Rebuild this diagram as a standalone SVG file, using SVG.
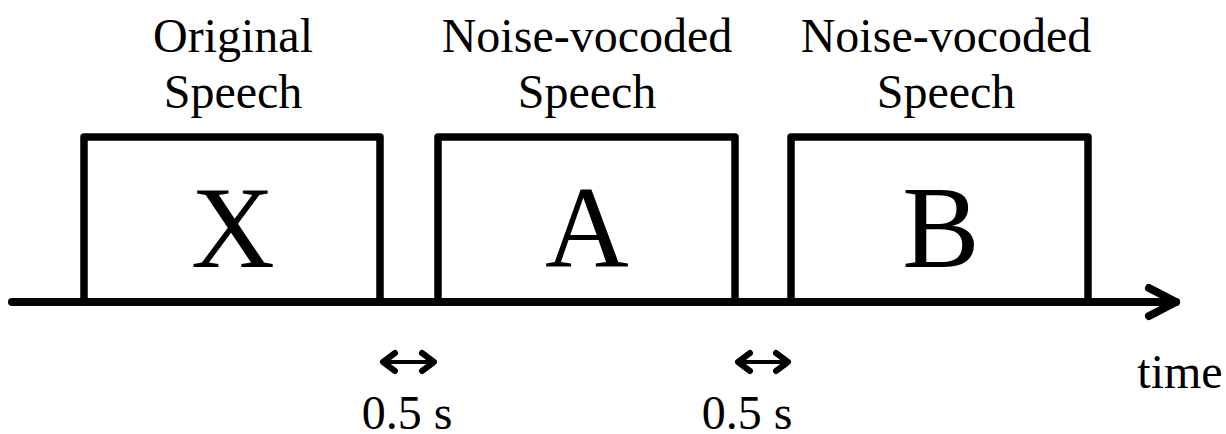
<svg xmlns="http://www.w3.org/2000/svg" width="1226" height="434" viewBox="0 0 1226 434">
  <style>
    .lbl { font-family: "Liberation Serif", "Times New Roman", serif; font-size: 48px; fill: #000; text-anchor: middle; }
    .big { font-family: "Liberation Serif", "Times New Roman", serif; font-size: 116px; fill: #000; text-anchor: middle; }
    .box { fill: none; stroke: #000; stroke-width: 7.5; stroke-linejoin: round; }
    .axis { fill: none; stroke: #000; stroke-width: 8; stroke-linecap: round; stroke-linejoin: round; }
    .gap { fill: none; stroke: #000; stroke-width: 4; stroke-linecap: round; }
    .gaphead { fill: none; stroke: #000; stroke-width: 6; stroke-linecap: round; stroke-linejoin: round; }
  </style>
  <rect width="1226" height="434" fill="#fff"/>

  <g id="connectors">
    <!-- time axis with open arrowhead -->
    <path class="axis" d="M12,302 H1176" stroke-linecap="butt"/>
    <path class="axis" d="M1149,288 L1176,302 L1149,316"/>
    <!-- 0.5 s interval markers -->
    <path class="gap" d="M383,362 H434"/>
    <path class="gaphead" d="M395,353 L383,362 L395,371 M422,353 L434,362 L422,371"/>
    <path class="gap" d="M738,362 H788"/>
    <path class="gaphead" d="M750,353 L738,362 L750,371 M776,353 L788,362 L776,371"/>
  </g>

  <g id="node-x">
    <path class="box" d="M84,302 V137 H380 V302"/>
    <text class="big" x="233" y="267">X</text>
    <text class="lbl" x="233" y="52">Original</text>
    <text class="lbl" x="233" y="108">Speech</text>
  </g>

  <g id="node-a">
    <path class="box" d="M438,302 V137 H735 V302"/>
    <text class="big" x="587" y="267">A</text>
    <text class="lbl" x="587" y="52">Noise-vocoded</text>
    <text class="lbl" x="587" y="108">Speech</text>
  </g>

  <g id="node-b">
    <path class="box" d="M791,302 V137 H1088 V302"/>
    <text class="big" x="941" y="267">B</text>
    <text class="lbl" x="946" y="52">Noise-vocoded</text>
    <text class="lbl" x="946" y="108">Speech</text>
  </g>

  <g id="labels">
    <text class="lbl" x="407" y="429">0.5 s</text>
    <text class="lbl" x="747" y="429">0.5 s</text>
    <text class="lbl" x="1180" y="388">time</text>
  </g>
</svg>
